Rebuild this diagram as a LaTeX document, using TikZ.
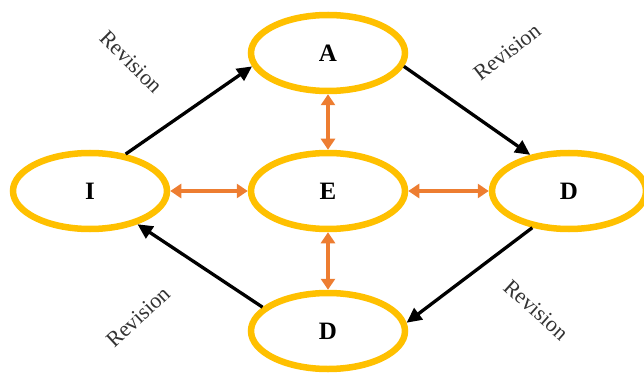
\documentclass[tikz,border=0pt]{standalone}
\usepackage{fontspec}
\setmainfont{Liberation Serif}
\usetikzlibrary{shapes.geometric,arrows.meta}
\definecolor{gold}{HTML}{FFC000}
\definecolor{orng}{HTML}{ED7D31}
\definecolor{txtgray}{HTML}{333333}
\begin{document}
\begin{tikzpicture}[x=1pt,y=-1pt,
  oval/.style={ellipse, draw=gold, line width=6.5pt, minimum width=154pt, minimum height=76pt, font=\fontsize{25}{27}\selectfont\bfseries, inner sep=0pt},
  flow/.style={line width=3.3pt, -{Triangle[length=15pt,width=14pt]}},
  link/.style={draw=orng, line width=4.5pt, {Triangle[length=11pt,width=14pt]}-{Triangle[length=11pt,width=14pt]}},
  rev/.style={font=\fontsize{22}{24}\selectfont, text=txtgray, inner sep=0pt}]
\useasboundingbox (0,0) rectangle (644,374);
\node[oval] (nA) at (328,53) {A};
\node[oval] (nE) at (328,191) {E};
\node[oval] (nI) at (90,191) {I};
\node[oval] (nDr) at (569,191) {D};
\node[oval] (nDb) at (328,331) {D};
\draw[flow] (nI.46) -- (nA.190);
\draw[flow] (nA.-10) -- (nDr.137);
\draw[flow] (nDr.225) -- (nDb.6);
\draw[flow] (nDb.160) -- (nI.-35);
\draw[link] (nA.south) -- (nE.north);
\draw[link] (nE.south) -- (nDb.north);
\draw[link] (nI.east) -- (nE.west);
\draw[link] (nE.east) -- (nDr.west);
\node[rev, rotate=-45] (r1) at (131,62) {Revision};
\node[rev, rotate=38] (r2) at (507,52) {Revision};
\node[rev, rotate=-42] (r3) at (536,310) {Revision};
\node[rev, rotate=43] (r4) at (138,317) {Revision};
\end{tikzpicture}
\end{document}
